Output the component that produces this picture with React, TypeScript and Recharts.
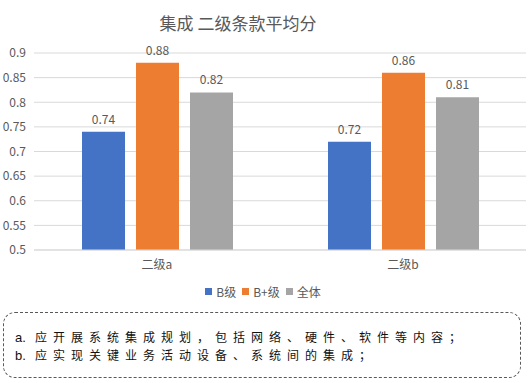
import React from "react";
import { BarChart, Bar, XAxis, YAxis, CartesianGrid, Legend, LabelList } from "recharts";

const categories = ["二级a", "二级b"];
const seriesB = [0.74, 0.72];
const seriesBPlus = [0.88, 0.86];
const seriesAll = [0.82, 0.81];
const yTicks = [0.5, 0.55, 0.6, 0.65, 0.7, 0.75, 0.8, 0.85, 0.9];
const title = "集成 二级条款平均分";
const notes = [
  ["a.", "应开展系统集成规划，包括网络、硬件、软件等内容；"],
  ["b.", "应实现关键业务活动设备、系统间的集成；"],
];

const data = categories.map((c, i) => ({
  name: c,
  B: seriesB[i],
  BPlus: seriesBPlus[i],
  All: seriesAll[i],
}));

const font = "'Microsoft YaHei', 'Noto Sans CJK SC', 'Liberation Sans', sans-serif";
const textColor = "#595959";

const legendItems = [
  { label: "B级", color: "#4472C4" },
  { label: "B+级", color: "#ED7D31" },
  { label: "全体", color: "#A5A5A5" },
];

const renderLegend = () => (
  <div style={{ display: "flex", justifyContent: "center", alignItems: "center", fontFamily: font, fontSize: 12, color: textColor, paddingTop: 3, paddingLeft: 0 }}>
    {legendItems.map((it, i) => (
      <span key={it.label} style={{ display: "inline-flex", alignItems: "center", marginLeft: i === 0 ? 0 : 6 }}>
        <span style={{ display: "inline-block", width: 7, height: 7, background: it.color, marginRight: 4 }} />
        {it.label}
      </span>
    ))}
  </div>
);

export default function App() {
  return (
    <div style={{ position: "absolute", left: 0, top: 0, width: 532, height: 383, background: "#fff" }}>
      <div style={{ position: "absolute", left: 0, width: 476, top: 10, textAlign: "center", fontFamily: font, fontSize: 17, color: textColor }}>
        {title}
      </div>
      <BarChart
        width={532}
        height={305}
        data={data}
        margin={{ top: 53, right: 6, left: 0, bottom: 0 }}
        barSize={43}
        barGap={11}
      >
        <CartesianGrid vertical={false} stroke="#d9d9d9" />
        <XAxis
          dataKey="name"
          height={30}
          tickLine={false}
          tickSize={0}
          tickMargin={10}
          axisLine={{ stroke: "#d9d9d9" }}
          tick={{ fill: textColor, fontSize: 12, fontFamily: font }}
        />
        <YAxis
          width={34}
          domain={[0.5, 0.9]}
          ticks={yTicks}
          tickLine={false}
          axisLine={false}
          tickSize={0}
          tickMargin={8}
          interval={0}
          allowDataOverflow
          tick={{ fill: textColor, fontSize: 12, fontFamily: font }}
        />
        <Legend verticalAlign="bottom" height={25} content={renderLegend} />
        <Bar dataKey="B" fill="#4472C4" isAnimationActive={false}>
          <LabelList dataKey="B" position="top" offset={8} style={{ fill: textColor, fontSize: 12, fontFamily: font }} />
        </Bar>
        <Bar dataKey="BPlus" fill="#ED7D31" isAnimationActive={false}>
          <LabelList dataKey="BPlus" position="top" offset={8} style={{ fill: textColor, fontSize: 12, fontFamily: font }} />
        </Bar>
        <Bar dataKey="All" fill="#A5A5A5" isAnimationActive={false}>
          <LabelList dataKey="All" position="top" offset={8} style={{ fill: textColor, fontSize: 12, fontFamily: font }} />
        </Bar>
      </BarChart>
      <div
        style={{
          position: "absolute",
          left: 3,
          top: 312,
          width: 518,
          height: 66,
          boxSizing: "border-box",
          border: "1.5px dashed #595959",
          borderRadius: 12,
          padding: "15px 0 0 11px",
          fontFamily: "'Noto Sans CJK SC', sans-serif",
          fontSize: 12,
          lineHeight: "17px",
          color: "#111",
        }}
      >
        {notes.map((n) => (
          <div key={n[0]} style={{ whiteSpace: "nowrap" }}>
            <span style={{ fontFamily: "'Liberation Sans', sans-serif", fontSize: 13, display: "inline-block", width: 20 }}>{n[0]}</span>
            <span style={{ letterSpacing: 6 }}>{n[1]}</span>
          </div>
        ))}
      </div>
    </div>
  );
}
